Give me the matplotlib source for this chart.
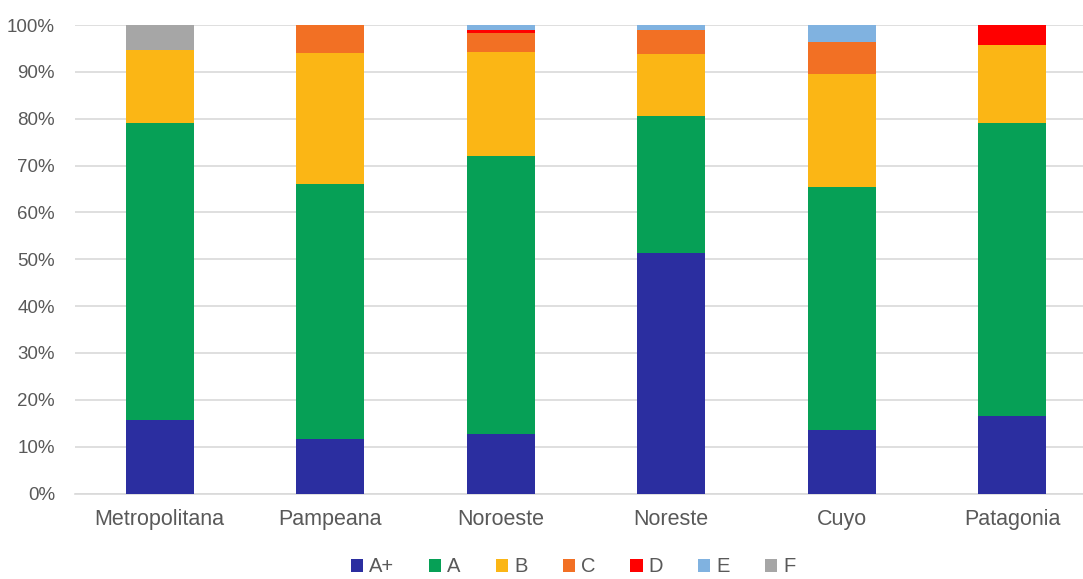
import matplotlib
matplotlib.use("Agg")
import matplotlib.pyplot as plt
import numpy as np
from matplotlib.ticker import PercentFormatter

plt.rcParams['font.family'] = ['Liberation Sans', 'DejaVu Sans']

regions = ["Metropolitana", "Pampeana", "Noroeste", "Noreste", "Cuyo", "Patagonia"]
grades = ["A+", "A", "B", "C", "D", "E", "F"]

# share of each grade per region, in percent
a_plus = [15.7, 11.6, 12.8, 51.4, 13.6, 16.5]
a = [63.3, 54.5, 59.2, 29.2, 51.9, 62.6]
b = [15.7, 28.0, 22.2, 13.2, 24.1, 16.6]
c = [0.0, 5.9, 4.1, 5.1, 6.8, 0.0]
d = [0.0, 0.0, 0.6, 0.0, 0.0, 4.3]
e = [0.0, 0.0, 1.1, 1.1, 3.6, 0.0]
f = [5.3, 0.0, 0.0, 0.0, 0.0, 0.0]

series = [a_plus, a, b, c, d, e, f]
colors = ["#2B2EA0", "#06A056", "#FBB615", "#F27024", "#FF0000", "#80B2E0", "#A6A6A6"]

W, H = 1083, 579
fig = plt.figure(figsize=(W / 100, H / 100), dpi=100)
left_px, right_px = 74.5, 1097.5
bottom_px, top_px = 493.5, 25
ax = fig.add_axes([left_px / W, 1 - bottom_px / H,
                   (right_px - left_px) / W, (bottom_px - top_px) / H])

x = np.arange(len(regions))
bottom = np.zeros(len(regions))
for name, vals, col in zip(grades, series, colors):
    vals = np.array(vals)
    ax.bar(x, vals, width=0.4, bottom=bottom, color=col, label=name, zorder=3)
    bottom += vals

ax.set_xlim(-0.5, len(regions) - 0.5)
ax.set_ylim(0, 100)
ax.set_yticks(np.arange(0, 101, 10))
ax.yaxis.set_major_formatter(PercentFormatter(decimals=0))
ax.set_xticks(x)
ax.set_xticklabels(regions)

ax.grid(axis='y', color='#D9D9D9', linewidth=1.2, zorder=0)
for s in ['left', 'right', 'top']:
    ax.spines[s].set_visible(False)
ax.spines['bottom'].set_color('#D9D9D9')
ax.spines['bottom'].set_linewidth(1.2)
ax.tick_params(axis='both', length=0, colors='#595959')
ax.tick_params(axis='y', labelsize=13.5, pad=14)
ax.tick_params(axis='x', labelsize=15.5, pad=11)

leg = fig.legend(loc='center', bbox_to_anchor=(573 / W, 1 - 567 / H), ncol=7,
                 frameon=False, fontsize=14.5, handlelength=0.6, handleheight=0.6,
                 handletextpad=0.3, columnspacing=1.75, borderaxespad=0, borderpad=0.1)
for t in leg.get_texts():
    t.set_color('#595959')

fig.savefig("out.png", dpi=100)
